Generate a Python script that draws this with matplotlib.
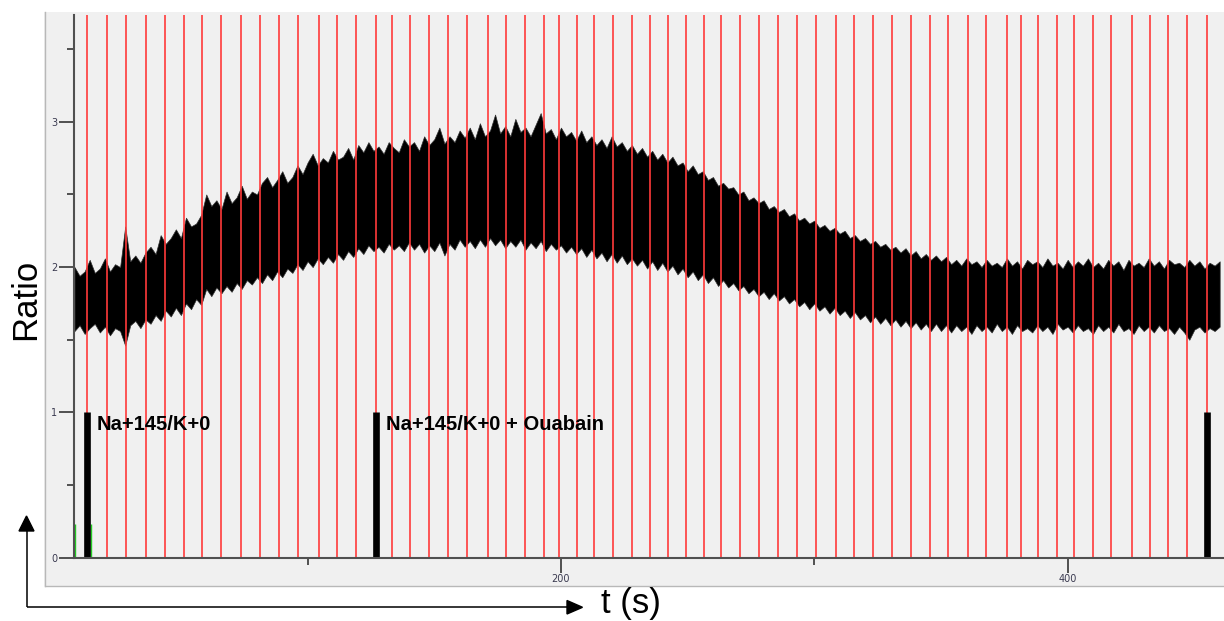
import numpy as np
import matplotlib
matplotlib.use("Agg")
import matplotlib.pyplot as plt
from matplotlib.patches import Polygon, Rectangle

# ---------------- data ----------------
# sample times of the trace envelope (s)
t_env = np.arange(8, 461, 2)
upper = [2.00, 1.94, 1.97, 2.05, 1.96, 1.99, 2.06, 1.97, 2.02, 2.00,
         2.28, 2.04, 2.08, 2.03, 2.10, 2.14, 2.09, 2.22, 2.16, 2.20,
         2.26, 2.20, 2.34, 2.28, 2.30, 2.36, 2.50, 2.42, 2.46, 2.40,
         2.52, 2.44, 2.48, 2.56, 2.47, 2.52, 2.50, 2.58, 2.62, 2.55,
         2.60, 2.66, 2.58, 2.62, 2.70, 2.64, 2.72, 2.78, 2.70, 2.75,
         2.72, 2.80, 2.74, 2.76, 2.82, 2.74, 2.84, 2.79, 2.86, 2.80,
         2.83, 2.78, 2.86, 2.82, 2.79, 2.88, 2.83, 2.86, 2.80, 2.90,
         2.84, 2.88, 2.96, 2.85, 2.90, 2.86, 2.94, 2.89, 2.96, 2.88,
         2.99, 2.90, 2.94, 3.05, 2.92, 2.97, 2.90, 3.02, 2.93, 2.96,
         2.90, 2.98, 3.06, 2.92, 2.95, 2.88, 2.96, 2.90, 2.93, 2.87,
         2.94, 2.86, 2.90, 2.84, 2.88, 2.82, 2.90, 2.83, 2.86, 2.80,
         2.84, 2.78, 2.82, 2.76, 2.80, 2.74, 2.78, 2.72, 2.76, 2.70,
         2.72, 2.66, 2.70, 2.64, 2.66, 2.60, 2.62, 2.56, 2.58, 2.54,
         2.55, 2.50, 2.52, 2.46, 2.48, 2.44, 2.46, 2.40, 2.42, 2.38,
         2.40, 2.35, 2.37, 2.32, 2.34, 2.30, 2.32, 2.27, 2.29, 2.25,
         2.27, 2.23, 2.25, 2.20, 2.22, 2.18, 2.20, 2.16, 2.18, 2.14,
         2.16, 2.12, 2.14, 2.10, 2.13, 2.08, 2.11, 2.06, 2.09, 2.05,
         2.08, 2.04, 2.07, 2.02, 2.05, 2.01, 2.06, 2.02, 2.04, 2.00,
         2.05, 2.01, 2.03, 2.00, 2.06, 2.01, 2.04, 1.99, 2.05, 2.02,
         2.04, 2.00, 2.06, 2.01, 2.03, 1.99, 2.05, 2.00, 2.04, 2.01,
         2.06, 2.00, 2.03, 1.99, 2.05, 2.01, 2.04, 1.98, 2.05, 2.01,
         2.03, 2.00, 2.06, 2.01, 2.04, 1.99, 2.05, 2.02, 2.03, 2.00,
         2.05, 2.01, 2.04, 1.99, 2.03, 2.01, 2.04]
lower = [1.56, 1.60, 1.54, 1.58, 1.61, 1.55, 1.59, 1.53, 1.58, 1.56,
         1.46, 1.60, 1.63, 1.58, 1.64, 1.61, 1.67, 1.63, 1.70, 1.66,
         1.72, 1.67, 1.75, 1.71, 1.78, 1.74, 1.85, 1.80, 1.86, 1.82,
         1.87, 1.83, 1.89, 1.85, 1.91, 1.88, 1.93, 1.89, 1.95, 1.91,
         1.97, 1.93, 1.99, 1.96, 2.02, 1.98, 2.04, 2.00, 2.06, 2.02,
         2.07, 2.03, 2.09, 2.05, 2.11, 2.07, 2.13, 2.09, 2.15, 2.11,
         2.14, 2.10, 2.16, 2.12, 2.15, 2.11, 2.17, 2.12, 2.16, 2.10,
         2.15, 2.11, 2.17, 2.08, 2.16, 2.12, 2.19, 2.14, 2.18, 2.13,
         2.19, 2.14, 2.20, 2.15, 2.19, 2.13, 2.18, 2.14, 2.19, 2.12,
         2.17, 2.13, 2.18, 2.11, 2.16, 2.12, 2.15, 2.10, 2.14, 2.09,
         2.13, 2.07, 2.12, 2.06, 2.10, 2.04, 2.09, 2.03, 2.08, 2.02,
         2.06, 2.01, 2.05, 1.99, 2.04, 1.98, 2.03, 1.97, 2.01, 1.95,
         1.99, 1.93, 1.97, 1.91, 1.95, 1.89, 1.93, 1.87, 1.91, 1.86,
         1.89, 1.84, 1.87, 1.82, 1.85, 1.80, 1.83, 1.78, 1.82, 1.77,
         1.80, 1.75, 1.78, 1.73, 1.76, 1.71, 1.75, 1.70, 1.73, 1.68,
         1.72, 1.67, 1.70, 1.65, 1.69, 1.64, 1.67, 1.62, 1.66, 1.61,
         1.65, 1.60, 1.64, 1.59, 1.63, 1.58, 1.62, 1.57, 1.61, 1.56,
         1.61, 1.56, 1.60, 1.55, 1.60, 1.56, 1.59, 1.54, 1.60, 1.56,
         1.59, 1.55, 1.61, 1.56, 1.59, 1.54, 1.60, 1.56, 1.58, 1.55,
         1.60, 1.56, 1.59, 1.54, 1.61, 1.57, 1.59, 1.55, 1.60, 1.56,
         1.58, 1.54, 1.60, 1.56, 1.59, 1.55, 1.61, 1.56, 1.58, 1.54,
         1.60, 1.56, 1.59, 1.55, 1.60, 1.56, 1.58, 1.54, 1.59, 1.55,
         1.50, 1.57, 1.59, 1.55, 1.58, 1.56, 1.59]

# red marker times (s)
red_times = [12.9, 20.7, 28.3, 36.3, 43.8, 51.3, 58.4, 65.9, 73.7, 81.2,
             88.7, 96.3, 104.4, 111.6, 119.0, 127.0, 133.3, 140.4, 147.8, 155.5,
             162.8, 171.3, 178.2, 185.7, 193.2, 199.2, 206.2, 213.2, 220.7, 228.2,
             235.2, 242.1, 249.2, 256.6, 263.2, 270.7, 278.0, 285.6, 293.1, 300.7,
             308.6, 315.6, 323.1, 330.6, 338.0, 345.6, 352.7, 360.5, 367.7, 376.0,
             381.6, 388.2, 395.7, 402.5, 410.1, 417.0, 425.5, 432.6, 439.5, 447.0,
             454.9]

# solution-change events
event_times = [12.9, 127.0, 454.9]
event_labels = ["Na+145/K+0", "Na+145/K+0 + Ouabain", ""]
event_height = 1.0
green_times = [8.2, 14.5]
green_height = 0.23

x_major = [200, 400]
x_minor = [100, 300]
y_major = [0, 1, 2, 3]
y_minor = [0.5, 1.5, 2.5, 3.5]
xlim = (7.8, 461.7)
ylim = (0.0, 3.735)

# ---------------- figure ----------------
W, H = 1224, 621
fig = plt.figure(figsize=(W / 100, H / 100), dpi=100, facecolor="white")

# background / decoration axes in pixel units
bg = fig.add_axes([0, 0, 1, 1], zorder=0)
bg.set_xlim(0, W)
bg.set_ylim(H, 0)
bg.axis("off")
bg.add_patch(Rectangle((44, 12), W - 44, 574, facecolor="#F0F0F0", edgecolor="none"))
bg.plot([44.5, 44.5], [12, 586], color="#B8B8B8", lw=1.0)
bg.plot([44.5, W], [586, 586], color="#B8B8B8", lw=1.0)

# axes arrows
bg.plot([26.5, 26.5], [607.3, 530], color="black", lw=1.1, solid_capstyle="butt")
bg.add_patch(Polygon([[19, 531], [34, 531], [26.5, 516]], closed=True, color="black"))
bg.plot([26.5, 568], [607.3, 607.3], color="black", lw=1.1, solid_capstyle="butt")
bg.add_patch(Polygon([[567, 600.5], [567, 614], [582.5, 607.3]], closed=True, color="black"))
bg.text(601, 613, "t (s)", fontsize=25, family="Liberation Sans", ha="left", va="baseline")
bg.text(26, 299, "Ratio", fontsize=25, family="Liberation Sans", rotation=90,
        ha="center", va="center")

# main axes
left = 74 / W
bottom = (H - 557.7) / H
ax = fig.add_axes([left, bottom, 1 - left, (557.7 - 15) / H], zorder=1)
ax.set_facecolor("none")
ax.set_xlim(*xlim)
ax.set_ylim(*ylim)

ax.fill_between(t_env, lower, upper, facecolor="black", edgecolor="#303030",
                lw=0.5, zorder=2)

for t in red_times:
    ax.axvline(t, color="#FF3A3A", lw=1.2, zorder=3)

for t, lab in zip(event_times, event_labels):
    ax.vlines(t, 0, event_height, color="black", lw=4.8, zorder=5)
    if lab:
        ax.text(t + 4.0, 0.879, lab, fontsize=14.5, fontweight="bold",
                family="Liberation Sans", ha="left", va="baseline", zorder=6)
for t in green_times:
    ax.vlines(t, 0, green_height, color="#22CC22", lw=1.0, zorder=4)

for s in ["top", "right"]:
    ax.spines[s].set_visible(False)
for s in ["left", "bottom"]:
    ax.spines[s].set_color("#505050")
    ax.spines[s].set_linewidth(1.5)
    ax.spines[s].set_zorder(7)

ax.set_xticks(x_major)
ax.set_xticks(x_minor, minor=True)
ax.set_yticks(y_major)
ax.set_yticks(y_minor, minor=True)
ax.set_xticklabels([str(v) for v in x_major])
ax.set_yticklabels([str(v) for v in y_major])
ax.tick_params(which="major", length=11, width=1.4, color="#505050",
               labelsize=7, labelcolor="#3A3A50", pad=1)
ax.tick_params(which="minor", length=5, width=1.4, color="#505050")

fig.savefig("out.png", dpi=100, facecolor="white")
